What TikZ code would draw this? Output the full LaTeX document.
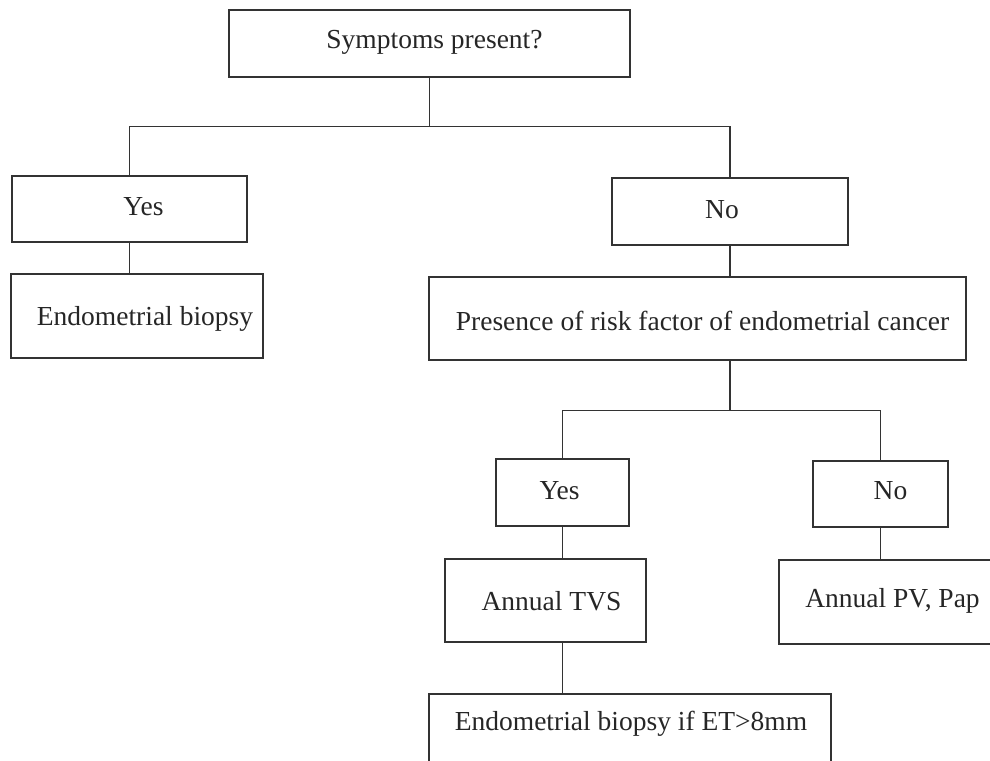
\documentclass[tikz,border=0pt]{standalone}
\usepackage{fontspec}
\setmainfont{Liberation Serif}
\begin{document}
\begin{tikzpicture}[x=1pt,y=-1pt,
  box/.style={draw=black!80, line width=1.4pt, rectangle, inner sep=0pt, fill=white},
  lbl/.style={font=\fontsize{27.5}{30}\selectfont, text=black!85, inner sep=0pt},
  conn/.style={draw=black!80, line width=1.4pt}]
\useasboundingbox (0,0) rectangle (990,760);
\fill[white] (0,0) rectangle (990,760);
\clip (0,0) rectangle (990,760);
% boxes
\node[box, minimum width=401pt, minimum height=67pt] (top) at (429.5,43.5) {};
\node[box, minimum width=235pt, minimum height=66pt] (yesL) at (129.5,209) {};
\node[box, minimum width=252pt, minimum height=84pt] (endoL) at (137,316) {};
\node[box, minimum width=236pt, minimum height=67pt] (noT) at (730,211.5) {};
\node[box, minimum width=537pt, minimum height=83pt] (pres) at (697.5,318.5) {};
\node[box, minimum width=133pt, minimum height=67pt] (yesM) at (562.5,492.5) {};
\node[box, minimum width=201pt, minimum height=83pt] (tvs) at (545.5,600.5) {};
\node[box, minimum width=135pt, minimum height=66pt] (noR) at (880.5,494) {};
\node[box, minimum width=231pt, minimum height=84pt] (pv) at (894.5,602) {};
\node[box, minimum width=402pt, minimum height=90pt] (bot) at (630,739) {};
% texts
\node[lbl] (tTop) at ([xshift=5pt,yshift=1pt]top.center) {Symptoms present?};
\node[lbl] (tYesL) at ([xshift=14pt,yshift=2pt]yesL.center) {Yes};
\node[lbl] (tEndoL) at ([xshift=8pt,yshift=-3pt]endoL.center) {Endometrial biopsy};
\node[lbl] (tNoT) at ([xshift=-8pt,yshift=2pt]noT.center) {No};
\node[lbl] (tPres) at ([xshift=5pt,yshift=-2pt]pres.center) {Presence of risk factor of endometrial cancer};
\node[lbl] (tYesM) at ([xshift=-3pt,yshift=2pt]yesM.center) {Yes};
\node[lbl] (tTvs) at ([xshift=6pt,yshift=-1pt]tvs.center) {Annual TVS};
\node[lbl] (tNoR) at ([xshift=10pt,yshift=3pt]noR.center) {No};
\node[lbl] (tPv) at (892.5,601) {Annual PV, Pap};
\node[lbl] (tBot) at (631,724) {Endometrial biopsy if ET>8mm};
% connectors
\coordinate (j1) at (429.5,126.5);
\coordinate (j2) at (730,410.5);
\draw[conn] (top.south) -- (j1);
\draw[conn] (yesL.north) |- (j1) -| (noT.north);
\draw[conn] (yesL.south) -- (endoL.north -| yesL.south);
\draw[conn] (noT.south) -- (noT.south |- pres.north);
\draw[conn] (noT.south |- pres.south) -- (j2);
\draw[conn] (yesM.north) |- (j2) -| (noR.north);
\draw[conn] (yesM.south) -- (yesM.south |- tvs.north);
\draw[conn] (noR.south) -- (noR.south |- pv.north);
\draw[conn] (yesM.south |- tvs.south) -- (yesM.south |- bot.north);
\end{tikzpicture}
\end{document}
